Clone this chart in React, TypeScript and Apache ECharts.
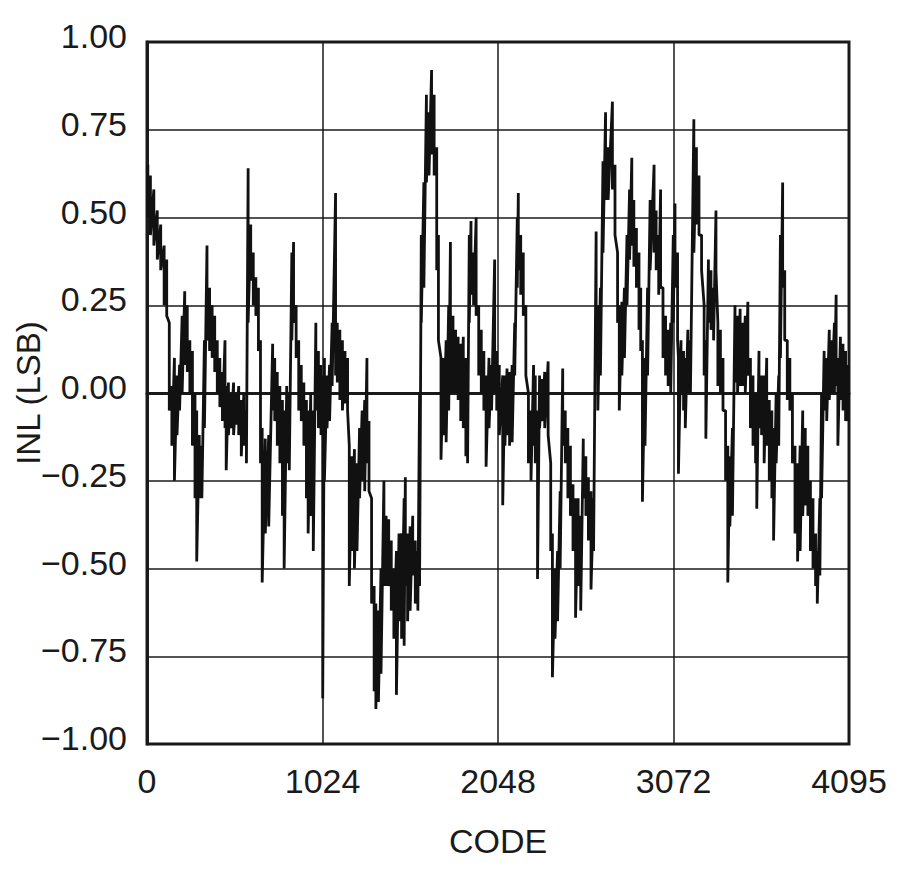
import React, { useEffect, useRef } from "react";
import * as echarts from "echarts";

// INL trace: per code bin, the upper and lower extent of the noisy trace (LSB)
const codes = [
  5, 20, 40, 60, 80, 100, 115, 130, 145, 160, 175, 190, 205, 220, 235, 250, 265, 280, 290, 305,
  320, 335, 350, 365, 380, 395, 410, 425, 440, 455, 462, 475, 490, 505, 520, 535, 550, 565, 580, 590,
  605, 620, 635, 650, 662, 672, 690, 710, 733, 745, 760, 775, 790, 800, 815, 830, 845, 855, 870, 885,
  900, 915, 930, 940, 955, 970, 985, 1000, 1015, 1025, 1035, 1050, 1065, 1080, 1100, 1110, 1125, 1140, 1155, 1170,
  1180, 1195, 1210, 1225, 1240, 1255, 1270, 1283, 1295, 1310, 1325, 1335, 1350, 1365, 1382, 1395, 1410, 1425, 1440, 1455,
  1470, 1485, 1500, 1507, 1520, 1535, 1550, 1565, 1580, 1590, 1600, 1615, 1630, 1645, 1660, 1675, 1690, 1700, 1715, 1730,
  1745, 1760, 1770, 1785, 1800, 1815, 1830, 1845, 1860, 1870, 1880, 1890, 1905, 1920, 1935, 1950, 1965, 1978, 1995, 2010,
  2028, 2040, 2055, 2075, 2088, 2100, 2115, 2130, 2145, 2160, 2166, 2180, 2195, 2210, 2225, 2240, 2255, 2265, 2278, 2290,
  2305, 2320, 2340, 2355, 2365, 2380, 2395, 2410, 2425, 2440, 2455, 2470, 2485, 2500, 2515, 2530, 2545, 2560, 2575, 2590,
  2605, 2620, 2630, 2645, 2660, 2675, 2690, 2715, 2730, 2745, 2755, 2770, 2785, 2800, 2815, 2828, 2840, 2855, 2870, 2880,
  2890, 2905, 2920, 2935, 2958, 2970, 2985, 2996, 3010, 3025, 3040, 3055, 3070, 3080, 3095, 3100, 3115, 3130, 3140, 3155,
  3170, 3190, 3205, 3220, 3235, 3250, 3260, 3275, 3290, 3305, 3319, 3330, 3345, 3360, 3375, 3388, 3400, 3415, 3430, 3445,
  3460, 3475, 3490, 3505, 3520, 3535, 3550, 3557, 3570, 3585, 3600, 3615, 3630, 3645, 3655, 3670, 3685, 3695, 3708, 3720,
  3735, 3750, 3765, 3780, 3795, 3810, 3825, 3840, 3855, 3870, 3885, 3900, 3910, 3925, 3935, 3950, 3965, 3980, 3995, 4010,
  4020, 4030, 4045, 4060, 4075, 4090,
];

const inlHigh = [
  0.65, 0.62, 0.58, 0.52, 0.48, 0.42, 0.38, 0.2, 0.02, 0.1, 0.05, 0.08, 0.22, 0.29, 0.25, 0.15, 0.12, 0.0, -0.05, -0.12,
  -0.15, 0.15, 0.42, 0.3, 0.25, 0.22, 0.15, 0.1, 0.06, 0.15, 0.02, 0.03, 0.0, 0.03, 0.0, 0.02, -0.02, 0.0, -0.05, 0.64,
  0.48, 0.4, 0.33, 0.3, 0.15, -0.1, -0.13, -0.12, 0.14, 0.1, 0.06, 0.02, -0.02, -0.05, 0.02, 0.0, 0.4, 0.43, 0.25, 0.15,
  0.08, 0.03, -0.02, -0.05, 0.0, -0.05, 0.2, 0.12, 0.08, 0.05, 0.1, 0.05, 0.08, 0.2, 0.57, 0.2, 0.18, 0.15, 0.12, 0.1,
  -0.15, -0.18, -0.16, -0.2, -0.1, -0.05, -0.02, 0.1, -0.08, -0.3, -0.55, -0.6, -0.62, -0.5, -0.25, -0.35, -0.36, -0.42, -0.5, -0.45,
  -0.4, -0.4, -0.3, -0.24, -0.4, -0.38, -0.35, -0.42, -0.45, 0.0, 0.45, 0.6, 0.85, 0.8, 0.92, 0.85, 0.7, 0.45, 0.1, 0.1,
  0.15, 0.25, 0.43, 0.22, 0.18, 0.16, 0.14, 0.16, 0.1, 0.05, 0.45, 0.49, 0.4, 0.5, 0.25, 0.18, 0.12, 0.05, 0.1, 0.08,
  0.38, 0.12, 0.08, 0.05, 0.05, 0.07, 0.06, 0.08, 0.2, 0.5, 0.57, 0.45, 0.4, 0.25, 0.0, -0.05, 0.08, 0.05, -0.05, 0.05,
  0.04, 0.06, 0.09, -0.2, -0.4, -0.5, -0.45, -0.28, 0.07, -0.05, -0.1, -0.15, -0.26, -0.3, -0.3, -0.35, -0.13, -0.18, -0.24, -0.28,
  -0.3, 0.46, 0.25, 0.3, 0.66, 0.8, 0.7, 0.83, 0.65, 0.4, 0.25, 0.26, 0.3, 0.45, 0.58, 0.67, 0.55, 0.47, 0.4, 0.3,
  0.15, 0.1, 0.3, 0.55, 0.65, 0.52, 0.45, 0.58, 0.3, 0.22, 0.18, 0.2, 0.45, 0.54, 0.4, 0.1, 0.15, 0.12, 0.1, 0.18,
  0.15, 0.78, 0.7, 0.62, 0.45, 0.25, 0.15, 0.38, 0.35, 0.3, 0.52, 0.2, 0.18, 0.1, -0.05, -0.15, -0.18, -0.1, 0.25, 0.22,
  0.24, 0.2, 0.22, 0.26, 0.1, 0.05, 0.0, -0.05, 0.12, 0.05, 0.05, 0.1, -0.02, -0.05, -0.1, 0.0, 0.05, 0.45, 0.6, 0.35,
  0.15, 0.1, 0.0, -0.15, -0.2, -0.15, -0.05, -0.1, -0.15, -0.25, -0.3, -0.4, -0.45, -0.3, 0.0, 0.12, 0.1, 0.18, 0.15, 0.2,
  0.28, 0.1, 0.16, 0.14, 0.12, 0.08,
];

const inlLow = [
  0.5, 0.45, 0.42, 0.38, 0.35, 0.25, 0.22, -0.05, -0.15, -0.25, -0.12, -0.05, 0.0, 0.08, 0.06, 0.0, -0.15, -0.3, -0.48, -0.3,
  -0.3, -0.1, 0.15, 0.12, 0.1, 0.06, 0.0, -0.04, -0.08, -0.1, -0.22, -0.12, -0.1, -0.12, -0.09, -0.12, -0.18, -0.15, -0.2, 0.2,
  0.32, 0.25, 0.22, 0.12, -0.2, -0.54, -0.4, -0.38, -0.05, -0.08, -0.15, -0.2, -0.35, -0.5, -0.2, -0.22, 0.15, 0.2, 0.1, -0.05,
  -0.08, -0.15, -0.3, -0.4, -0.35, -0.45, -0.05, -0.1, -0.12, -0.87, -0.25, -0.1, -0.08, 0.02, 0.05, 0.03, -0.02, -0.05, -0.03, -0.05,
  -0.55, -0.45, -0.5, -0.45, -0.3, -0.25, -0.28, -0.2, -0.28, -0.6, -0.85, -0.9, -0.88, -0.8, -0.55, -0.55, -0.55, -0.62, -0.7, -0.86,
  -0.65, -0.7, -0.72, -0.55, -0.65, -0.62, -0.52, -0.6, -0.62, -0.55, 0.2, 0.3, 0.6, 0.62, 0.68, 0.62, 0.35, 0.15, -0.19, -0.12,
  -0.14, -0.05, 0.0, 0.0, 0.0, -0.02, -0.08, -0.1, -0.18, -0.2, 0.2, 0.28, 0.25, 0.22, 0.05, 0.0, -0.05, -0.21, -0.1, -0.05,
  0.0, -0.05, -0.12, -0.32, -0.15, -0.12, -0.15, -0.14, 0.05, 0.3, 0.35, 0.28, 0.22, 0.05, -0.2, -0.25, -0.15, -0.2, -0.53, -0.1,
  -0.08, -0.1, -0.12, -0.45, -0.81, -0.7, -0.65, -0.5, -0.15, -0.2, -0.3, -0.35, -0.45, -0.64, -0.55, -0.62, -0.3, -0.35, -0.42, -0.56,
  -0.45, 0.08, -0.05, 0.05, 0.4, 0.55, 0.55, 0.58, 0.45, 0.2, -0.05, 0.05, 0.1, 0.25, 0.38, 0.42, 0.36, 0.3, 0.18, 0.12,
  -0.31, -0.15, 0.05, 0.35, 0.4, 0.35, 0.28, 0.3, 0.1, 0.05, 0.02, 0.0, 0.2, 0.3, 0.15, -0.23, 0.0, -0.05, -0.1, 0.0,
  0.0, 0.4, 0.48, 0.45, 0.35, 0.05, -0.13, 0.2, 0.18, 0.15, 0.35, 0.02, 0.0, -0.05, -0.25, -0.54, -0.38, -0.35, 0.03, 0.0,
  0.02, 0.02, 0.0, 0.05, -0.1, -0.15, -0.2, -0.33, -0.1, -0.12, -0.2, -0.15, -0.25, -0.3, -0.42, -0.2, -0.15, 0.1, 0.3, 0.15,
  -0.02, -0.05, -0.2, -0.4, -0.48, -0.45, -0.35, -0.32, -0.35, -0.45, -0.5, -0.55, -0.6, -0.52, -0.3, -0.05, -0.08, -0.02, 0.0, 0.0,
  0.02, -0.15, -0.02, -0.05, -0.08, -0.08,
];

const xTicks = [0, 1024, 2048, 3072, 4095];
const yMin = -1;
const yMax = 1;
const yStep = 0.25;

const FONT = '"Liberation Sans", Arial, sans-serif';
const INK = "#1a1a1a";

export default function App() {
  const ref = useRef<HTMLDivElement>(null);

  useEffect(() => {
    if (!ref.current) return;
    const chart = echarts.init(ref.current, null, { renderer: "svg" });

    const trace: [number, number][] = [];
    codes.forEach((c, i) => {
      trace.push([c, inlHigh[i]]);
      trace.push([c, inlLow[i]]);
    });

    chart.setOption({
      animation: false,
      backgroundColor: "#ffffff",
      grid: {
        left: 147,
        top: 42,
        width: 702,
        height: 702,
        containLabel: false,
        outerBoundsMode: "none",
        show: true,
        borderColor: INK,
        borderWidth: 3,
        backgroundColor: "transparent",
      },
      xAxis: {
        type: "value",
        min: xTicks[0],
        max: xTicks[xTicks.length - 1],
        interval: 1024,
        name: "CODE",
        nameLocation: "middle",
        nameGap: 80,
        nameMoveOverlap: false,
        nameTextStyle: { fontFamily: FONT, fontSize: 34, color: INK },
        axisLine: { show: true, lineStyle: { color: INK, width: 3 } },
        axisTick: { show: false },
        splitLine: { show: true, lineStyle: { color: INK, width: 1.5 } },
        axisLabel: {
          fontFamily: FONT,
          fontSize: 34,
          color: INK,
          margin: 20,
          showMaxLabel: true,
          formatter: (v: number) => String(Math.round(v)),
        },
      },
      yAxis: {
        type: "value",
        min: yMin,
        max: yMax,
        interval: yStep,
        name: "INL (LSB)",
        nameLocation: "middle",
        nameGap: 102,
        nameRotate: 90,
        nameMoveOverlap: false,
        nameTextStyle: { fontFamily: FONT, fontSize: 33, color: INK },
        axisLine: { show: true, lineStyle: { color: INK, width: 3 } },
        axisTick: { show: false },
        splitLine: { show: true, lineStyle: { color: INK, width: 1.5 } },
        axisLabel: {
          fontFamily: FONT,
          fontSize: 34,
          color: INK,
          margin: 20,
          formatter: (v: number) =>
            "{t|" + (v < 0 ? "\u2212" + Math.abs(v).toFixed(2) : v.toFixed(2)) + "}",
          rich: {
            t: { fontFamily: FONT, fontSize: 34, color: INK, padding: [0, 0, 12, 0] },
          },
        },
      },
      series: [
        {
          type: "line",
          data: trace,
          showSymbol: false,
          symbol: "none",
          lineStyle: { color: "#111111", width: 2.8 },
          z: 3,
        },
      ],
    });

    return () => chart.dispose();
  }, []);

  return (
    <div
      ref={ref}
      style={{ position: "fixed", left: 0, top: 0, width: 900, height: 871, background: "#fff" }}
    />
  );
}
